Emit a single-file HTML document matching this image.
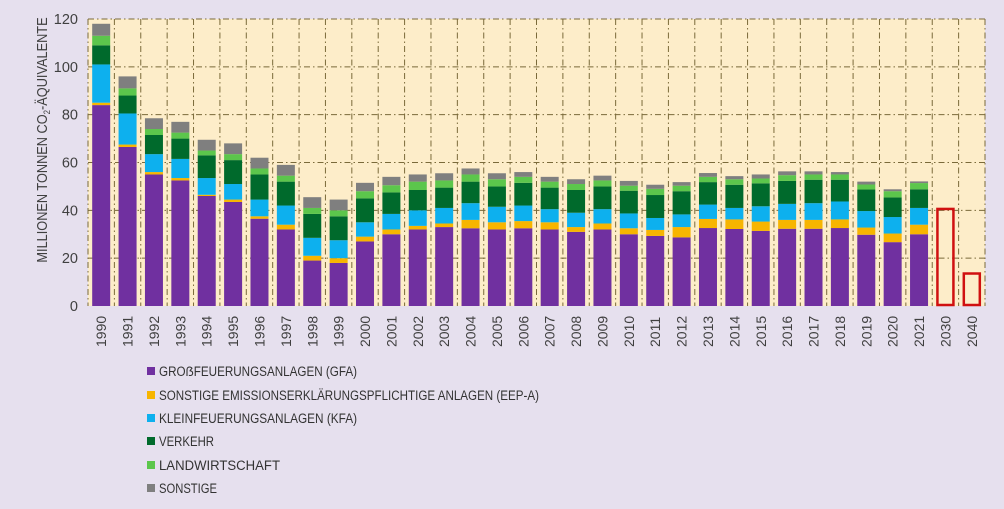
<!DOCTYPE html>
<html><head><meta charset="utf-8"><style>
html,body{margin:0;padding:0;background:#e6e0ee;}
svg{display:block;font-family:"Liberation Sans",sans-serif;}
</style></head><body>
<svg id="chart" width="1004" height="509" viewBox="0 0 1004 509" xmlns="http://www.w3.org/2000/svg">
<rect x="0" y="0" width="1004" height="509" fill="#e6e0ee"/>
<rect x="88" y="19" width="897" height="287" fill="#fdedc9"/>
<g id="grid"></g>
<g id="bars"></g>
<g id="yticks"></g>
<g id="xticks"></g>
<text transform="translate(47,140) rotate(-90) scale(0.88,1)" text-anchor="middle" font-size="14.5" fill="#404040">MILLIONEN TONNEN CO<tspan font-size="9" dy="3">2</tspan><tspan dy="-3">-ÄQUIVALENTE</tspan></text>
<g id="legend"></g>
</svg>
<script>
const years = ["1990","1991","1992","1993","1994","1995","1996","1997","1998","1999","2000","2001","2002","2003","2004","2005","2006","2007","2008","2009","2010","2011","2012","2013","2014","2015","2016","2017","2018","2019","2020","2021","2030","2040"];
const gfa = [84,66.5,55,52.5,46,43.5,36.5,32,19,18,27,30,32,33,32.5,32,32.5,32,31,32,30,29.3,28.7,32.6,32.2,31.4,32.3,32.3,32.6,29.8,26.7,30,0,0];
const eep = [1,1,1,1,0.5,1,1,2,2,2,2,2,1.5,1.5,3.5,3,3,3,2,2.5,2.5,2.5,4.3,3.8,4,3.9,3.7,3.7,3.6,3,3.6,4,0,0];
const kfa = [16,13,7.5,8,7,6.5,7,8,7.5,7.5,6,6.5,6.5,6.5,7,6.5,6.5,5.5,6,6,6.2,5,5.3,6,4.8,6.4,6.7,7,7.5,6.9,6.9,7,0,0];
const verkehr = [8,7.5,8,8.5,9.5,10,10.5,10,10,10,10,9,8.5,8.5,9,8.5,9.5,9,9.5,9.5,9.5,9.6,9.7,9.4,9.7,9.6,9.6,9.8,9.1,9,8.2,7.8,0,0];
const landwirtschaft = [4,3,2.5,2.5,2,2.5,2.5,2.5,2.5,2.5,3,3,3.5,3,3,3,2.5,2.5,2.5,2.5,2.1,2.6,2.3,2.2,2.3,2,2.4,2.2,2.2,2.1,2.6,2.6,0,0];
const sonstige = [5,5,4.5,4.5,4.5,4.5,4.5,4.5,4.5,4.5,3.5,3.5,3,3,2.5,2.5,2,2,2,2,2,1.7,1.5,1.6,1.3,1.7,1.6,1.3,1,1.2,0.8,0.7,0,0];
const targets = [null,null,null,null,null,null,null,null,null,null,null,null,null,null,null,null,null,null,null,null,null,null,null,null,null,null,null,null,null,null,null,null,41,14];
const yTicks = [0,20,40,60,80,100,120];
const seriesNames = ["GROẞFEUERUNGSANLAGEN (GFA)","SONSTIGE EMISSIONSERKLÄRUNGSPFLICHTIGE ANLAGEN (EEP-A)","KLEINFEUERUNGSANLAGEN (KFA)","VERKEHR","LANDWIRTSCHAFT","SONSTIGE"];

const NS="http://www.w3.org/2000/svg";
const series=[gfa,eep,kfa,verkehr,landwirtschaft,sonstige];
const colors=["#7030a0","#f7b500","#0db0ee","#006a2c","#5cc64c","#7f7f7f"];
const keys=["gfa","eep","kfa","verkehr","landwirtschaft","sonstige"];
const X0=88,X1=985,Y0=306,Y1=19,YMAX=120;
const band=(X1-X0)/years.length, bw=18;
function y(v){return Y0-(v/YMAX)*(Y0-Y1);}
function xc(i){return X0+band*(i+0.5);}
function mk(tag,attrs,parent){const e=document.createElementNS(NS,tag);for(const k in attrs)e.setAttribute(k,attrs[k]);parent.appendChild(e);return e;}
const grid=document.getElementById('grid'),bars=document.getElementById('bars'),yt=document.getElementById('yticks'),xt=document.getElementById('xticks'),lg=document.getElementById('legend');
yTicks.forEach(t=>{
  if(t>0){const l=mk('line',{x1:X0,x2:X1,y1:y(t),y2:y(t),stroke:'#7a6a3a','stroke-width':1,'stroke-dasharray':'6,3,1.5,3'},grid);
  
  }
  const tx=mk('text',{x:78,y:y(t)+5,'text-anchor':'end','font-size':14.5,fill:'#404040'},yt);
  tx.textContent=t;
  
  
});
for(let i=0;i<=years.length;i++){
  const gx=X0+band*i;
  const l=mk('line',{x1:gx,x2:gx,y1:Y1,y2:Y0,stroke:'#7a6a3a','stroke-width':1,'stroke-dasharray':'6,3,1.5,3'},grid);
  
  
}
years.forEach((yr,i)=>{
  let acc=0;
  series.forEach((s,k)=>{
    const v=s[i]; if(!v) return;
    const r=mk('rect',{x:xc(i)-bw/2,y:y(acc+v),width:bw,height:y(acc)-y(acc+v),fill:colors[k]},bars);
    
    
    acc+=v;
  });
  if(targets[i]!=null){
    const r=mk('rect',{x:xc(i)-bw/2+1,y:y(targets[i])+1,width:bw-2,height:y(0)-y(targets[i])-2,fill:'none',stroke:'#d01010','stroke-width':2.5},bars);
    
    
  }
  const tx=mk('text',{transform:`translate(${xc(i)+5},${347}) rotate(-90)`,'font-size':14,fill:'#404040'},xt);
  tx.textContent=yr;
  
  
});
const rowsY=[371,395,418,441,465,488];
const widths=[198,380,198,55,121,58];
seriesNames.forEach((n,k)=>{
  const g=mk('g',{},lg);
  
  
  mk('rect',{x:147,y:rowsY[k]-4,width:8,height:8,fill:colors[k]},g);
  const t=mk('text',{x:159,y:rowsY[k]+5,'font-size':13.5,fill:'#333',textLength:widths[k],lengthAdjust:'spacingAndGlyphs'},g);
  t.textContent=n;
});
</script>
</body></html>
